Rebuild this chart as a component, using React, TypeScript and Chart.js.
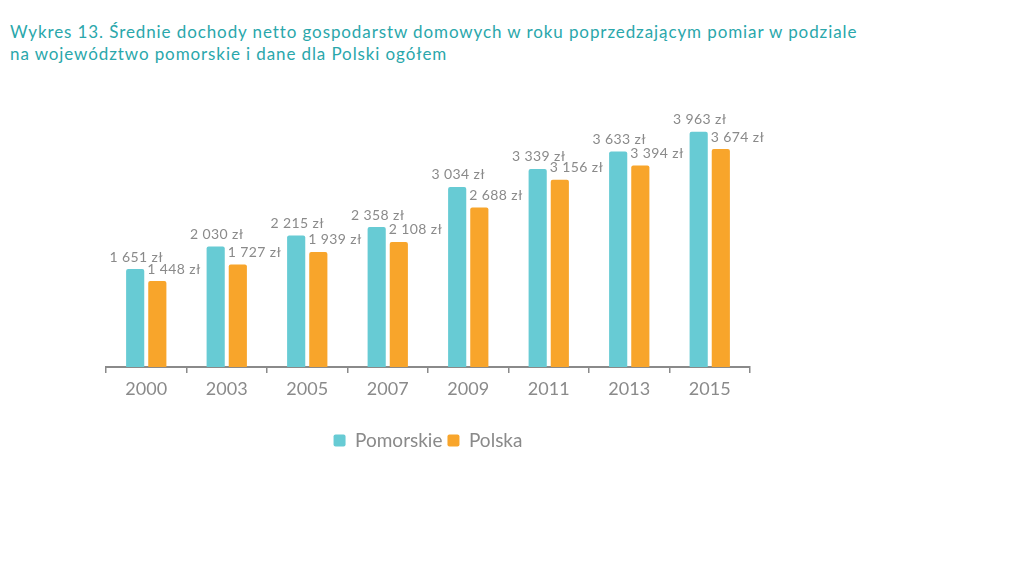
import React, { useEffect, useRef } from "react";
import { Chart, registerables } from "chart.js";

Chart.register(...registerables);

const years = ["2000", "2003", "2005", "2007", "2009", "2011", "2013", "2015"];
const pomorskie = [1651, 2030, 2215, 2358, 3034, 3339, 3633, 3963];
const polska = [1448, 1727, 1939, 2108, 2688, 3156, 3394, 3674];
const seriesNames = ["Pomorskie", "Polska"];
const titleLines = [
  "Wykres 13. Średnie dochody netto gospodarstw domowych w roku poprzedzającym pomiar w podziale",
  "na województwo pomorskie i dane dla Polski ogółem",
];

const TEAL = "#67CBD4";
const ORANGE = "#F8A52B";
const GRAY = "#8a8a8a";
const FONT = "Lato, 'Open Sans', sans-serif";

const fmt = (v: number) => {
  const s = String(v);
  return s.replace(/\B(?=(\d{3})+(?!\d))/g, " ") + " zł";
};

const labelPlugin = {
  id: "barLabels",
  afterDatasetsDraw(chart: any) {
    const ctx = chart.ctx;
    ctx.save();
    ctx.font = `14px ${FONT}`;
    (ctx as any).letterSpacing = "0.4px";
    ctx.fillStyle = GRAY;
    ctx.textBaseline = "middle";
    chart.data.datasets.forEach((ds: any, di: number) => {
      const meta = chart.getDatasetMeta(di);
      meta.data.forEach((bar: any, i: number) => {
        const text = fmt(ds.data[i]);
        const y = bar.y - 12;
        if (di === 0) {
          ctx.textAlign = "center";
          ctx.fillText(text, bar.x + 1, y);
        } else {
          ctx.textAlign = "left";
          ctx.fillText(text, bar.x - bar.width / 2 - 1, y);
        }
      });
    });
    ctx.restore();
  },
};

export default function App() {
  const ref = useRef<HTMLCanvasElement | null>(null);
  useEffect(() => {
    if (!ref.current) return;
    const chart = new Chart(ref.current, {
      type: "bar",
      data: {
        labels: years,
        datasets: [
          {
            label: seriesNames[0],
            data: pomorskie,
            backgroundColor: TEAL,
            borderRadius: 2,
            borderSkipped: "bottom",
            categoryPercentage: 0.55,
            barPercentage: 0.82,
          },
          {
            label: seriesNames[1],
            data: polska,
            backgroundColor: ORANGE,
            borderRadius: 2,
            borderSkipped: "bottom",
            categoryPercentage: 0.55,
            barPercentage: 0.82,
          },
        ],
      },
      options: {
        animation: false,
        responsive: false,
        maintainAspectRatio: false,
        layout: { padding: { left: 106, right: 274, top: 100, bottom: 111 } },
        scales: {
          y: { display: false, min: 0, max: 4500 },
          x: {
            offset: true,
            afterFit: (axis: any) => {
              axis.height = 59;
            },
            grid: {
              offset: true,
              drawOnChartArea: false,
              drawTicks: true,
              tickLength: 6,
              color: "#8a8a8a",
              lineWidth: 1.5,
            },
            border: { display: true, color: "#8a8a8a", width: 2 },
            ticks: {
              color: GRAY,
              padding: 5,
              font: { family: FONT, size: 18 },
            },
          },
        },
        plugins: {
          legend: {
            position: "bottom",
            labels: {
              color: GRAY,
              font: { family: FONT, size: 19 },
              boxWidth: 12,
              boxHeight: 12,
              padding: 5,
              useBorderRadius: true,
              borderRadius: 2,
            },
          },
          tooltip: { enabled: false },
          title: { display: false },
        },
      },
      plugins: [labelPlugin],
    });
    return () => chart.destroy();
  }, []);

  return (
    <div style={{ position: "absolute", left: 0, top: 0, width: 1024, height: 571, background: "#fff" }}>
      <div
        style={{
          position: "absolute",
          left: 10,
          top: 21,
          color: "#2AA7AB",
          fontFamily: FONT,
          fontSize: 17,
          letterSpacing: "0.9px",
          lineHeight: "22px",
          whiteSpace: "nowrap",
        }}
      >
        {titleLines.map((l, i) => (
          <div key={i}>{l}</div>
        ))}
      </div>
      <canvas ref={ref} width={1024} height={571} style={{ position: "absolute", left: 0, top: 0 }} />
    </div>
  );
}
